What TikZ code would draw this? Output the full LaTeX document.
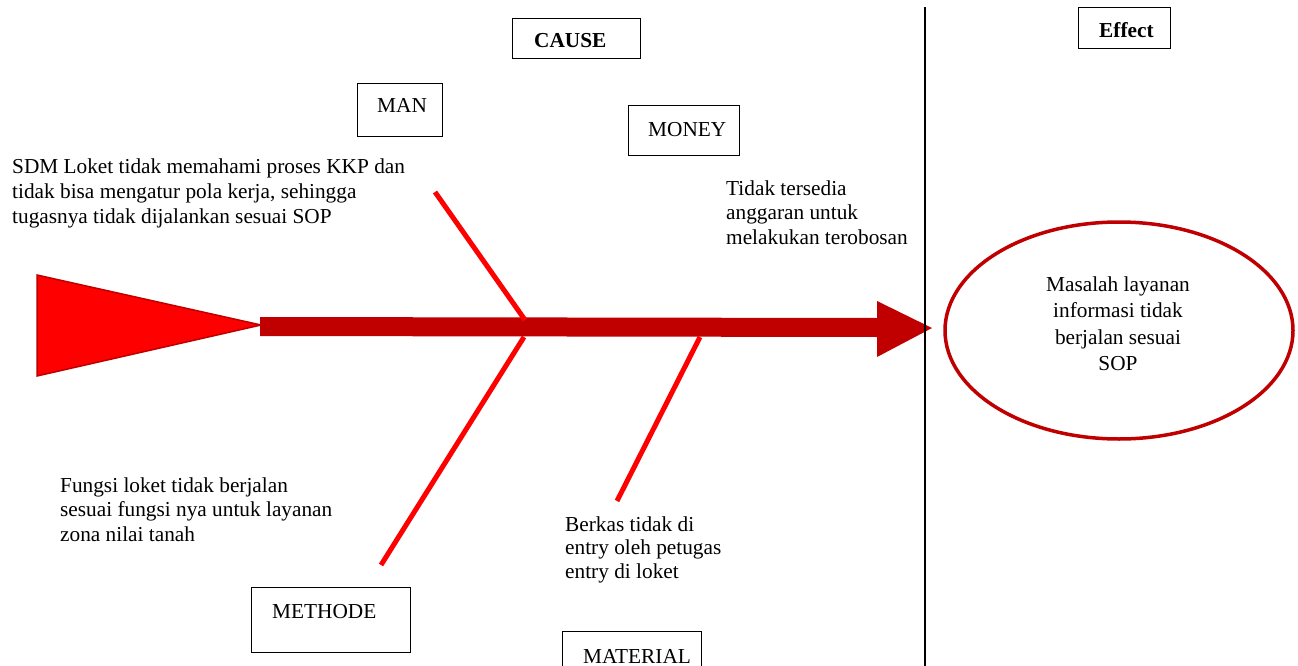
\documentclass[tikz,border=0pt]{standalone}
\usepackage{fontspec}
\setmainfont{Liberation Serif}
\usetikzlibrary{shapes.geometric}
\definecolor{darkred}{HTML}{C00000}
\definecolor{boneRed}{HTML}{FF0000}
\newcommand\leftlines[1]{\begin{tabular}[t]{@{}l@{}}#1\end{tabular}}
\newcommand\centerlines[1]{\begin{tabular}[t]{@{}c@{}}#1\end{tabular}}
\tikzset{
  txt/.style={inner sep=0pt, font=\fontsize{21.3}{24.5}\selectfont},
  boxframe/.style={draw=black, line width=1.2pt, inner sep=0pt},
  bone/.style={draw=boneRed, line width=5pt},
}
\begin{document}
\begin{tikzpicture}[x=1pt,y=-1pt]
\useasboundingbox (0,0) rectangle (1298,666);
% tail triangle
\draw[fill=boneRed, draw=darkred, line width=1.5pt] (37,275) -- (261,325) -- (37,376) -- cycle;
% spine with head
\fill[darkred] (260,317) -- (877,318) -- (877,301) -- (932,328) -- (877,357) -- (877,337) -- (260,336) -- cycle;
% bones
\coordinate (b1s) at (435,192); \coordinate (b1e) at (525,320);
\coordinate (b2s) at (524,337); \coordinate (b2e) at (381,565);
\coordinate (b3s) at (700,337); \coordinate (b3e) at (617,501);
\draw[bone] (b1s) -- (b1e);
\draw[bone] (b2s) -- (b2e);
\draw[bone] (b3s) -- (b3e);
% divider
\coordinate (vtop) at (925,7); \coordinate (vbot) at (925,670);
\draw[line width=2.5pt] (vtop) -- (vbot);
% boxes
\node[boxframe, minimum width=128pt, minimum height=40pt] (cause) at (576.5,38.5) {};
\node[txt, anchor=base west, font=\fontsize{21.3}{24.5}\selectfont\bfseries] (causet) at (534,48) {CAUSE};
\node[boxframe, minimum width=92pt, minimum height=41pt] (effect) at (1124.5,28) {};
\node[txt, anchor=base west, font=\fontsize{21.3}{24.5}\selectfont\bfseries] (effectt) at (1099,38) {Effect};
\node[boxframe, minimum width=85pt, minimum height=53pt] (man) at (400,110) {};
\node[txt, anchor=base west] (mant) at (377,113) {MAN};
\node[boxframe, minimum width=111pt, minimum height=50pt] (money) at (684,130.5) {};
\node[txt, anchor=base west] (moneyt) at (648,137) {MONEY};
\node[boxframe, minimum width=159pt, minimum height=65pt] (methode) at (331,620) {};
\node[txt, anchor=base west] (methodet) at (272,618) {METHODE};
\node[boxframe, minimum width=139pt, minimum height=67pt] (material) at (632,665) {};
\node[txt, anchor=base west] (materialt) at (583,663) {MATERIAL};
% cause texts
\node[txt, anchor=base west, font=\fontsize{21.3}{25.5}\selectfont] (sdm) at (12,173)
  {\leftlines{SDM Loket tidak memahami proses KKP dan\\tidak bisa mengatur pola kerja, sehingga\\tugasnya tidak dijalankan sesuai SOP}};
\node[txt, anchor=base west] (tidak) at (726,195)
  {\leftlines{Tidak tersedia\\anggaran untuk\\melakukan terobosan}};
\node[txt, anchor=base west] (fungsi) at (60,492)
  {\leftlines{Fungsi loket tidak berjalan\\sesuai fungsi nya untuk layanan\\zona nilai tanah}};
\node[txt, anchor=base west, font=\fontsize{21.3}{23.5}\selectfont] (berkas) at (565,531)
  {\leftlines{Berkas tidak di\\entry oleh petugas\\entry di loket}};
% effect ellipse
\node[draw=darkred, line width=3.5pt, ellipse, minimum width=348pt, minimum height=217pt, inner sep=0pt] (problem) at (1119,330.5) {};
\node[txt, anchor=base, font=\fontsize{21.3}{26.5}\selectfont] (problemt) at (1118,291)
  {\centerlines{Masalah layanan\\informasi tidak\\berjalan sesuai\\SOP}};
\end{tikzpicture}
\end{document}
